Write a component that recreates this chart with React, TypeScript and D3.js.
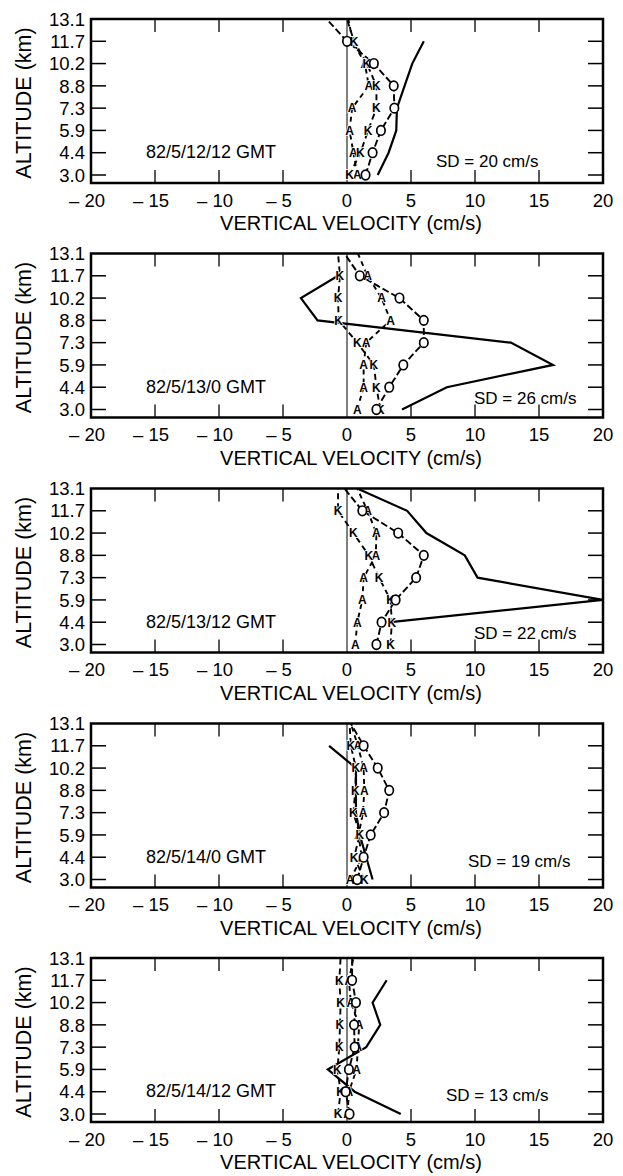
import React from "react";
import * as d3 from "d3";

// Altitude levels (km), bottom to top
const levelLabels = ["3.0", "4.4", "5.9", "7.3", "8.8", "10.2", "11.7", "13.1"];
const xTickValues = [-20, -15, -10, -5, 0, 5, 10, 15, 20];
const xTickLabels = ["– 20", "– 15", "– 10", "– 5", "0", "5", "10", "15", "20"];

const panelTimes = ["82/5/12/12 GMT", "82/5/13/0 GMT", "82/5/13/12 GMT", "82/5/14/0 GMT", "82/5/14/12 GMT"];
const panelSD = [20, 26, 22, 19, 13];

// Vertical velocity (cm/s) at each level, null = no value
const solidP1 = [2.4, 3.25, 3.85, 3.9, 4.5, 5.1, 6.0, null];
const circleP1 = [1.45, 2.0, 2.65, 3.7, 3.65, 2.1, 0.0, -1.6];
const aP1 = [0.8, 0.5, 0.2, 0.4, 1.7, 1.4, 0.45, 0.1];
const kP1 = [0.2, 1.05, 1.65, 2.3, 2.3, 1.55, 0.55, 0.0];

const solidP2 = [4.3, 7.8, 16.1, 12.8, -2.3, -3.6, -0.7, null];
const circleP2 = [2.3, 3.3, 4.4, 6.0, 6.0, 4.1, 1.0, -0.2];
const aP2 = [0.8, 1.3, 1.3, 1.5, 3.4, 2.7, 1.6, 0.85];
const kP2 = [2.6, 2.3, 2.1, 0.8, -0.65, -0.7, -0.55, -0.7];

const solidP3 = [null, 3.4, 20, 10.2, 9.2, 6.2, 4.7, 0.8];
const circleP3 = [2.3, 2.7, 3.8, 5.4, 6.0, 4.0, 1.2, -0.2];
const aP3 = [0.65, 0.8, 1.2, 1.3, 2.25, 2.3, 1.6, 0.8];
const kP3 = [3.4, 3.5, 3.4, 2.5, 1.7, 0.5, -0.7, -0.7];

const solidP4 = [2.0, 1.5, 1.0, 0.7, 0.7, 0.7, -1.4, null];
const circleP4 = [0.8, 1.3, 1.85, 2.9, 3.3, 2.4, 1.3, 0.3];
const aP4 = [0.25, 1.15, 0.9, 1.25, 1.35, 1.3, 0.85, 0.3];
const kP4 = [1.35, 0.55, 1.0, 0.5, 0.65, 0.7, 0.3, 0.2];

const solidP5 = [4.2, 0.6, -1.5, 1.5, 2.6, 2.0, 3.1, null];
const circleP5 = [0.2, -0.1, 0.15, 0.6, 0.55, 0.7, 0.4, 0.4];
const aP5 = [0.05, 0.15, 0.75, 0.85, 0.95, 0.3, 0.15, 0.5];
const kP5 = [-0.7, -0.5, -0.75, -0.6, -0.55, -0.5, -0.6, -0.5];

const solids = [solidP1, solidP2, solidP3, solidP4, solidP5];
const circles = [circleP1, circleP2, circleP3, circleP4, circleP5];
const aSeries = [aP1, aP2, aP3, aP4, aP5];
const kSeries = [kP1, kP2, kP3, kP4, kP5];

// layout (positions only)
const panelTops = [19, 253.5, 488.5, 723.5, 958];
const sdX = [436, 474, 474, 468, 446];
const sdDy = [142, 144, 144, 137, 137];
const FONT = "'Liberation Sans', Arial, Helvetica, sans-serif";

type Pt = { v: number | null; lev: string };

function Panel({ idx }: { idx: number }) {
  const top = panelTops[idx];
  const bottom = top + 164;
  const x = d3.scaleLinear().domain([-20, 20]).range([91, 603]);
  const y = d3.scalePoint<string>().domain(levelLabels).range([top + 156, top]);
  const toPts = (arr: (number | null)[]): Pt[] => arr.map((v, i) => ({ v, lev: levelLabels[i] }));
  const line = d3
    .line<Pt>()
    .defined((d) => d.v != null)
    .x((d) => x(d.v as number))
    .y((d) => y(d.lev) as number);
  const markerPts = (arr: (number | null)[]) => toPts(arr).filter((d, i) => d.v != null && i < 7);
  const clipId = `clip${idx}`;
  const x0 = x(-20), x1 = x(20);
  return (
    <g>
      <defs>
        <clipPath id={clipId}>
          <rect x={x0} y={top} width={x1 - x0} height={bottom - top} />
        </clipPath>
      </defs>
      {/* zero line */}
      <line x1={x(0)} x2={x(0)} y1={top} y2={bottom} stroke="#000" strokeWidth={1} />
      {/* left/right ticks */}
      {levelLabels.slice(0, 7).map((l) => (
        <g key={l}>
          <line x1={x0} x2={x0 + 15} y1={y(l)} y2={y(l)} stroke="#000" strokeWidth={1.5} />
          <line x1={x1} x2={x1 - 15} y1={y(l)} y2={y(l)} stroke="#000" strokeWidth={1.5} />
        </g>
      ))}
      {/* top/bottom ticks */}
      {xTickValues.filter((v) => v !== 0 && Math.abs(v) !== 20).map((v) => (
        <g key={v}>
          <line x1={x(v)} x2={x(v)} y1={top} y2={top + 13} stroke="#000" strokeWidth={1.3} />
          <line x1={x(v)} x2={x(v)} y1={bottom} y2={bottom - 13} stroke="#000" strokeWidth={1.3} />
        </g>
      ))}
      {/* y labels */}
      {levelLabels.map((l) => (
        <text key={l} x={85} y={y(l)} dy="0.36em" textAnchor="end" fontSize={18.5} fontFamily={FONT}>
          {l}
        </text>
      ))}
      {/* x labels */}
      {xTickValues.map((v, i) => (
        <text key={v} x={x(v) + (v < 0 ? -4 : 0)} y={bottom + 17} dy="0.36em" textAnchor="middle" fontSize={18.5} fontFamily={FONT}>
          {xTickLabels[i]}
        </text>
      ))}
      <text x={x(0) + 4} y={bottom + 40} dy="0.36em" textAnchor="middle" fontSize={20} fontFamily={FONT}>
        VERTICAL VELOCITY (cm/s)
      </text>
      <text
        transform={`translate(23,${top + 84}) rotate(-90)`}
        dy="0.36em"
        textAnchor="middle"
        fontSize={21.5}
        fontFamily={FONT}
      >
        ALTITUDE (km)
      </text>
      <text x={146} y={top + 133} dy="0.36em" fontSize={18} fontFamily={FONT}>
        {panelTimes[idx]}
      </text>
      <text x={sdX[idx]} y={top + sdDy[idx]} dy="0.36em" fontSize={17} fontFamily={FONT}>
        {`SD = ${panelSD[idx]} cm/s`}
      </text>
      <g clipPath={`url(#${clipId})`}>
        <path d={line(toPts(solids[idx])) || ""} fill="none" stroke="#000" strokeWidth={2.2} />
        <path d={line(toPts(circles[idx])) || ""} fill="none" stroke="#000" strokeWidth={1.9} strokeDasharray="7,3" />
        <path d={line(toPts(aSeries[idx])) || ""} fill="none" stroke="#000" strokeWidth={1.9} strokeDasharray="5,4" />
        <path d={line(toPts(kSeries[idx])) || ""} fill="none" stroke="#000" strokeWidth={1.9} strokeDasharray="6,4" />
      </g>
      {markerPts(aSeries[idx]).map((d, i) => (
        <text key={"a" + i} x={x(d.v as number)} y={y(d.lev)} dy="0.36em" textAnchor="middle" fontSize={12} fontWeight="bold" fontFamily={FONT}
          stroke="#fff" strokeWidth={1.5} paintOrder="stroke" fill="#000">A</text>
      ))}
      {markerPts(kSeries[idx]).map((d, i) => (
        <text key={"k" + i} x={x(d.v as number)} y={y(d.lev)} dy="0.36em" textAnchor="middle" fontSize={12} fontWeight="bold" fontFamily={FONT}
          stroke="#fff" strokeWidth={1.5} paintOrder="stroke" fill="#000">K</text>
      ))}
      {markerPts(circles[idx]).map((d, i) => (
        <ellipse key={"o" + i} cx={x(d.v as number)} cy={y(d.lev)} rx={4.2} ry={4.8} fill="#fff" stroke="#000" strokeWidth={1.7} />
      ))}
      {/* frame */}
      <rect x={x0} y={top} width={x1 - x0} height={bottom - top} fill="none" stroke="#000" strokeWidth={2.5} />
    </g>
  );
}

export default function App() {
  return (
    <svg
      width={623}
      height={1176}
      style={{ position: "absolute", left: 0, top: 0, display: "block", background: "#fff" }}
    >
      <rect width={623} height={1176} fill="#fff" />
      {panelTops.map((_, i) => (
        <Panel key={i} idx={i} />
      ))}
    </svg>
  );
}
